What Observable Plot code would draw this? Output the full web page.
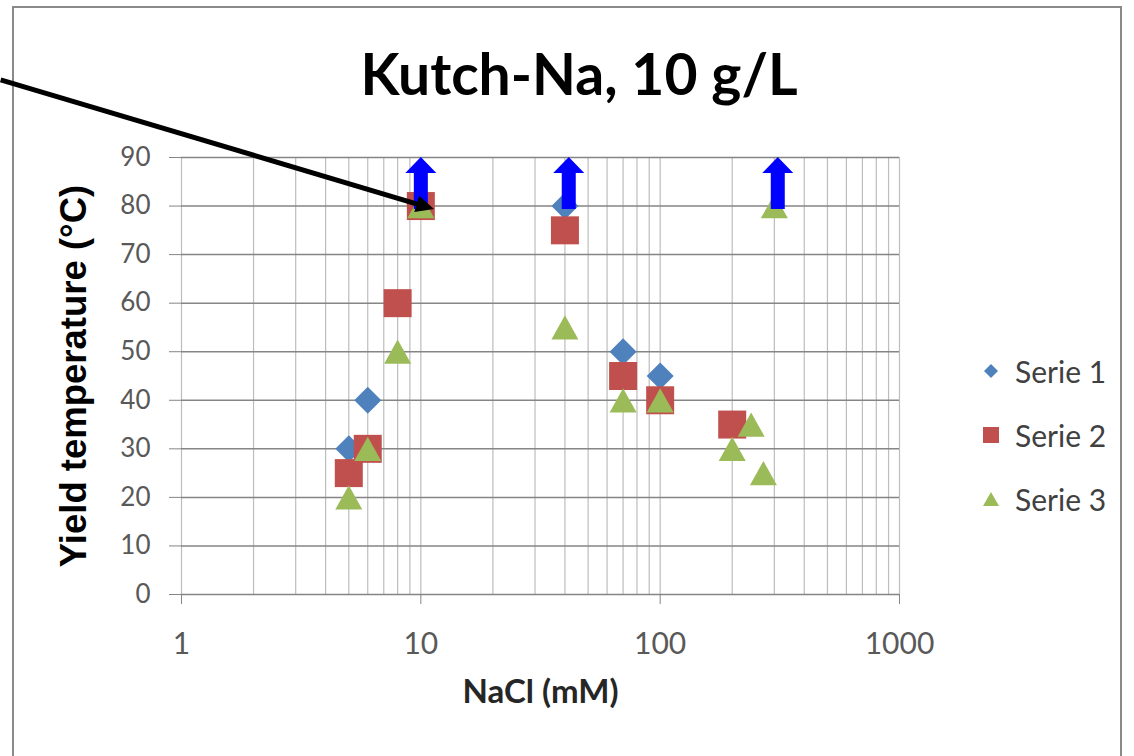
<!DOCTYPE html>
<html><head><meta charset="utf-8">
<script src="https://cdn.jsdelivr.net/npm/d3@7"></script>
<script src="https://cdn.jsdelivr.net/npm/@observablehq/plot@0.6"></script>
<style>
body{margin:0;background:#fff;}
#wrap{position:relative;width:1134px;height:756px;overflow:hidden;background:#fff;font-family:Lato,sans-serif;}
#frame{position:absolute;left:12px;top:6px;width:1110px;height:800px;border:2px solid #8a8a8a;box-sizing:border-box;}
#chart{position:absolute;left:0;top:0;}
#title{position:absolute;left:0;top:45px;width:1158px;text-align:center;font-family:Lato,sans-serif;font-weight:bold;font-size:57px;line-height:56px;color:#000;}
#legend{position:absolute;left:980px;top:339px;}
.item{display:flex;align-items:center;height:64px;font-family:Lato,sans-serif;font-size:30px;color:#404040;}
.item svg{margin-right:13px;}
</style></head>
<body>
<div id="wrap"><div id="frame"></div><div id="chart"></div><div id="title">Kutch-Na, 10 g/L</div><div id="legend"></div></div>
<script>
// ---- data ----
const seriesNames = ["Serie 1", "Serie 2", "Serie 3"];
const seriesColors = ["#4F81BD", "#C0504D", "#9BBB59"];
const s1x = [5, 6, 10, 40, 70, 100, 200];
const s1y = [30, 40, 80, 80, 50, 45, 35];
const s2x = [5, 6, 8, 10, 40, 70, 100, 200];
const s2y = [25, 30, 60, 80, 75, 45, 40, 35];
const s3x = [5, 6, 8, 10, 40, 70, 100, 200, 240, 270, 300];
const s3y = [20, 30, 50, 80, 55, 40, 40, 30, 35, 25, 80];
const upArrowX = [10, 41.5, 310];
const upArrowY = [80, 80, 80];
const pointerX = [0.1755, 10.64];
const pointerY = [106, 79.8];
const xTicks = [1, 10, 100, 1000];
const yTicks = [0, 10, 20, 30, 40, 50, 60, 70, 80, 90];
const titleText = "Kutch-Na, 10 g/L";
const xLabel = "NaCl (mM)";
const yLabel = "Yield temperature (°C)";

// ---- symbols ----
const rad = s => Math.sqrt(s / Math.PI);
const diamond = {draw(c, s){const r = rad(s); c.moveTo(0,-r); c.lineTo(r,0); c.lineTo(0,r); c.lineTo(-r,0); c.closePath();}};
const square = {draw(c, s){const r = rad(s); c.moveTo(-r,-r); c.lineTo(r,-r); c.lineTo(r,r); c.lineTo(-r,r); c.closePath();}};
const triangle = {draw(c, s){const r = rad(s); const h = r*0.9; c.moveTo(0,-h); c.lineTo(r,h); c.lineTo(-r,h); c.closePath();}};
const blockArrow = {draw(c){c.moveTo(-7,3); c.lineTo(-7,-33); c.lineTo(-15.5,-33); c.lineTo(0,-49); c.lineTo(15.5,-33); c.lineTo(7,-33); c.lineTo(7,3); c.closePath();}};
const head = {draw(c){c.moveTo(7,0); c.lineTo(-11,-8.5); c.lineTo(-11,8.5); c.closePath();}};
const symbols = [diamond, square, triangle];
const sizes = [13.5, 14, 13.5];

const toRows = (xs, ys) => xs.map((x, i) => ({x, y: ys[i]}));
const sets = [toRows(s1x, s1y), toRows(s2x, s2y), toRows(s3x, s3y)];
const minorTicks = d3.scaleLog().domain([1, 1000]).ticks();
const pointer = [{x1: pointerX[0], y1: pointerY[0], x2: pointerX[1], y2: pointerY[1]}];

const chart = Plot.plot({
  width: 1134, height: 756,
  marginTop: 157, marginBottom: 162, marginLeft: 181, marginRight: 235,
  style: {background: "transparent", fontFamily: "Lato, sans-serif", overflow: "visible"},
  x: {type: "log", domain: [1, 1000]},
  y: {domain: [0, 90]},
  marks: [
    Plot.gridX(minorTicks, {stroke: "#bdbdbd", strokeOpacity: 1, strokeWidth: 1.2}),
    Plot.gridY(yTicks, {stroke: "#858585", strokeOpacity: 1, strokeWidth: 1.5}),
    Plot.axisX(xTicks, {tickSize: 10, tickPadding: 28, tickFormat: d => String(d), fontSize: 30, stroke: "#858585", fill: "#595959", label: null}),
    Plot.axisY(yTicks, {tickSize: 12, tickPadding: 19, fontSize: 26, stroke: "#858585", fill: "#595959", label: null}),
    Plot.text([yLabel], {text: d => d, frameAnchor: "left", textAnchor: "middle", lineAnchor: "middle", dx: -107, rotate: -90, fontFamily: "Liberation Sans, Arial, sans-serif", fontWeight: "bold", fontSize: 36.5, fill: "#000"}),
    Plot.text([xLabel], {text: d => d, frameAnchor: "bottom", textAnchor: "middle", lineAnchor: "middle", dy: 98, fontWeight: "bold", fontSize: 33, fill: "#262626"}),
    ...sets.map((d, i) => Plot.dot(d, {x: "x", y: "y", symbol: symbols[i], r: sizes[i], fill: seriesColors[i], stroke: "none"})),
    Plot.dot(toRows(upArrowX, upArrowY), {x: "x", y: "y", symbol: blockArrow, r: 10, fill: "#0000FF", stroke: "none"}),
    Plot.link(pointer, {x1: "x1", y1: "y1", x2: "x2", y2: "y2", stroke: "#000", strokeWidth: 5}),
    Plot.dot(pointer, {x: "x2", y: "y2", symbol: head, r: 8, rotate: 16.6, fill: "#000", stroke: "none"})
  ]
});
document.getElementById("chart").appendChild(chart);
document.getElementById("title").textContent = titleText;

// legend
const legendShapes = [
  '<polygon points="8,1 15,8 8,15 1,8"/>',
  '<rect x="0" y="0" width="16" height="16"/>',
  '<polygon points="8,1 16,15 0,15"/>'
];
const lg = document.getElementById("legend");
seriesNames.forEach((name, i) => {
  const row = document.createElement("div");
  row.className = "item";
  row.innerHTML = `<svg width="22" height="16" viewBox="-3 0 22 16"><g fill="${seriesColors[i]}">${legendShapes[i]}</g></svg><span>${name}</span>`;
  lg.appendChild(row);
});
</script>
</body></html>
